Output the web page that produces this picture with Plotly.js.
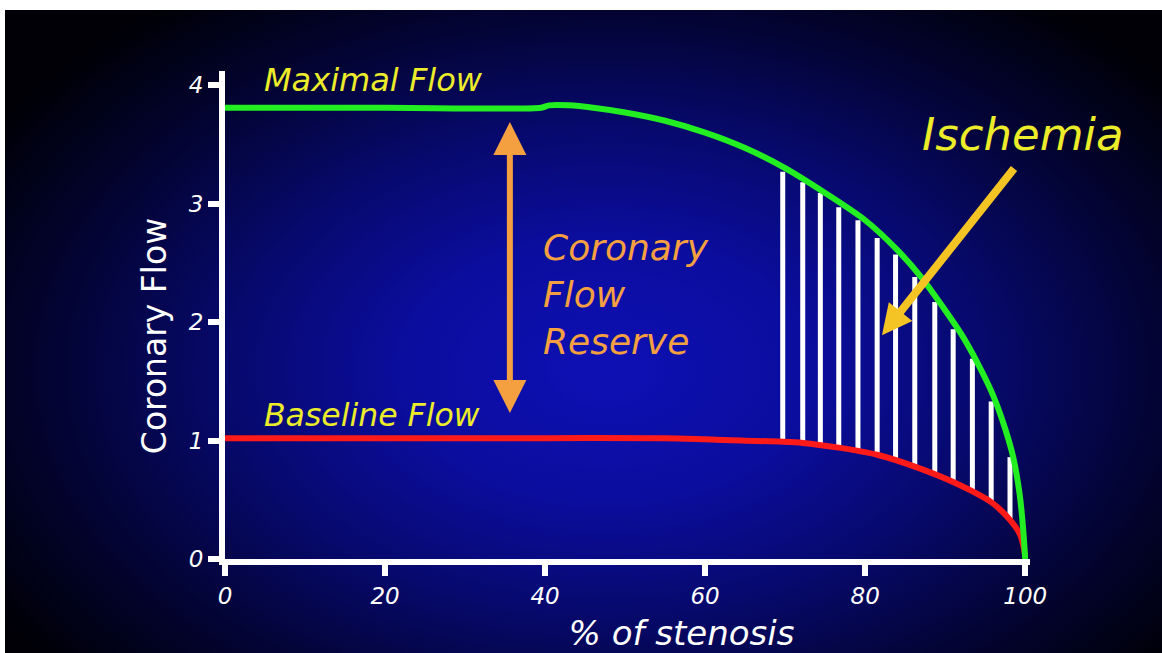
<!DOCTYPE html>
<html>
<head>
<meta charset="utf-8">
<script src="https://cdn.plot.ly/plotly-3.0.1.min.js"></script>
<style>
  html, body { margin: 0; padding: 0; background: #ffffff; width: 1162px; height: 653px; overflow: hidden; }
  #chart {
    position: absolute; left: 5px; top: 10px; width: 1157px; height: 643px;
    background: radial-gradient(ellipse 62% 72% at 52% 56%, #0e10b4 0%, #0b0d9e 28%, #07096e 52%, #030435 76%, #000006 100%);
  }
</style>
</head>
<body>
<div id="chart"></div>
<script>
// Maximal flow curve (green)
const maxX = [0, 20, 39.5, 40.5, 43, 46, 50, 55, 60, 65, 70, 75, 80, 84, 87, 90, 92, 94, 96, 97.5, 98.5, 99.3, 99.75, 100];
const maxY = [3.81, 3.81, 3.81, 3.83, 3.83, 3.81, 3.77, 3.70, 3.60, 3.47, 3.30, 3.09, 2.86, 2.61, 2.38, 2.10, 1.90, 1.66, 1.38, 1.10, 0.86, 0.55, 0.25, 0];

// Baseline flow curve (red)
const baseX = [0, 40, 55, 60, 64.4, 69.7, 72.2, 76.7, 81.5, 86.2, 91, 95.75, 98.1, 99.4, 100];
const baseY = [1.02, 1.02, 1.02, 1.01, 1.00, 0.99, 0.98, 0.94, 0.88, 0.78, 0.65, 0.48, 0.33, 0.20, 0.03];

// Ischemia hatch lines (white)
const hatchX      = [69.7, 72.2, 74.4, 76.7, 79.1, 81.5, 83.8, 86.2, 88.7, 91.0, 93.4, 95.75, 98.1];
const hatchTop    = [3.27, 3.18, 3.09, 2.97, 2.86, 2.71, 2.57, 2.38, 2.17, 1.94, 1.69, 1.33, 0.86];
const hatchBottom = [0.99, 0.98, 0.96, 0.94, 0.91, 0.88, 0.84, 0.78, 0.72, 0.65, 0.58, 0.48, 0.33];

// Axis ticks
const xTicks = [0, 20, 40, 60, 80, 100];
const yTicks = [0, 1, 2, 3, 4];

// Reserve arrow (orange) and ischemia arrow (yellow)
const reserveArrow = {x: 35.6, yTop: 3.69, yBottom: 1.22};
const ischemiaArrow = {headX: 82.1, headY: 1.89, tailX: 98.75, tailY: 3.31};

const hx = [], hy = [];
hatchX.forEach((x, i) => { hx.push(x, x, null); hy.push(hatchBottom[i], hatchTop[i], null); });

const FONT = '"DejaVu Sans", "Open Sans", sans-serif';
const PAD = n => '<span>' + '\u00a0'.repeat(n) + '</span>';

const traces = [
  { x: hx, y: hy, mode: 'lines', line: {color: '#ffffff', width: 5}, hoverinfo: 'skip', showlegend: false },
  { x: baseX, y: baseY, mode: 'lines', line: {color: '#ff1a1a', width: 6, shape: 'spline', smoothing: 0.8}, name: 'Baseline Flow', showlegend: false },
  { x: maxX, y: maxY, mode: 'lines', line: {color: '#22ee22', width: 6, shape: 'spline', smoothing: 0.8}, name: 'Maximal Flow', showlegend: false }
];

const layout = {
  width: 1157, height: 643,
  paper_bgcolor: 'rgba(0,0,0,0)', plot_bgcolor: 'rgba(0,0,0,0)',
  margin: {l: 220, r: 132, t: 61, b: 94},
  showlegend: false,
  xaxis: {
    range: [0, 100.6], tickvals: xTicks, ticktext: xTicks.map(String),
    showgrid: false, zeroline: false, showline: true, linecolor: '#ffffff', linewidth: 6,
    ticks: 'outside', ticklen: 11, tickwidth: 6, tickcolor: '#ffffff',
    tickfont: {family: FONT, size: 23, color: '#ffffff', style: 'italic'},
    title: {text: PAD(10) + '% of stenosis', font: {family: FONT, size: 34, color: '#ffffff', style: 'italic'}, standoff: 16}
  },
  yaxis: {
    range: [0, 4.12], tickvals: yTicks, ticktext: yTicks.map(String),
    showgrid: false, zeroline: false, showline: true, linecolor: '#ffffff', linewidth: 6,
    ticks: 'outside', ticklen: 11, tickwidth: 6, tickcolor: '#ffffff',
    tickfont: {family: FONT, size: 23, color: '#ffffff', style: 'italic'},
    title: {text: 'Coronary Flow' + PAD(4), font: {family: FONT, size: 33, color: '#ffffff'}, standoff: 14}
  },
  annotations: [
    { x: 4.6, y: 4.04, xref: 'x', yref: 'y', xanchor: 'left', yanchor: 'middle', showarrow: false,
      text: 'Maximal Flow', font: {family: FONT, size: 32, color: '#ecec2a', style: 'italic'} },
    { x: 4.6, y: 1.22, xref: 'x', yref: 'y', xanchor: 'left', yanchor: 'middle', showarrow: false,
      text: 'Baseline Flow', font: {family: FONT, size: 31.5, color: '#ecec2a', style: 'italic'} },
    { x: 39.5, y: 2.23, xref: 'x', yref: 'y', xanchor: 'left', yanchor: 'middle', align: 'left', showarrow: false,
      text: 'Coronary<br>Flow<br>Reserve', font: {family: FONT, size: 36, color: '#f5a040', style: 'italic'} },
    { x: 86.9, y: 3.58, xref: 'x', yref: 'y', xanchor: 'left', yanchor: 'middle', showarrow: false,
      text: 'Ischemia', font: {family: FONT, size: 45, color: '#ecec2a', style: 'italic'} },
    { x: reserveArrow.x, y: reserveArrow.yTop, ax: reserveArrow.x, ay: reserveArrow.yBottom,
      xref: 'x', yref: 'y', axref: 'x', ayref: 'y', text: '', showarrow: true,
      arrowside: 'end+start', arrowhead: 2, startarrowhead: 2, arrowsize: 1.1, startarrowsize: 1.1,
      arrowwidth: 6, arrowcolor: '#f5a040', standoff: 0, startstandoff: 0 },
    { x: ischemiaArrow.headX, y: ischemiaArrow.headY, ax: ischemiaArrow.tailX, ay: ischemiaArrow.tailY,
      xref: 'x', yref: 'y', axref: 'x', ayref: 'y', text: '', showarrow: true,
      arrowhead: 2, arrowsize: 0.75, arrowwidth: 8, arrowcolor: '#f4c424', standoff: 0 }
  ]
};

Plotly.newPlot('chart', traces, layout, {displayModeBar: false, staticPlot: true});
</script>
</body>
</html>
